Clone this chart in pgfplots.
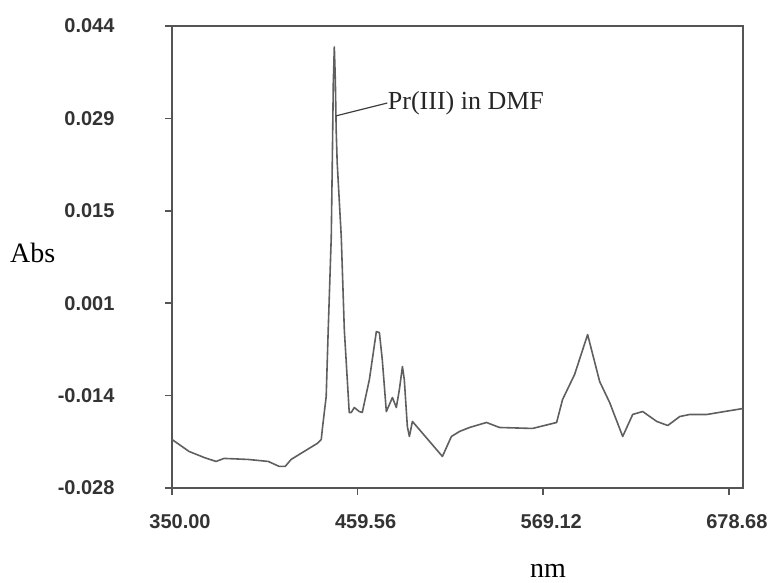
\documentclass[border=0pt]{standalone}
\usepackage{pgfplots}
\pgfplotsset{compat=1.18}
\usepackage{fontspec}
\setmainfont{Liberation Serif}
\newfontfamily\arialfont{Liberation Sans}
\definecolor{axgray}{RGB}{85,85,85}
\definecolor{lngray}{RGB}{95,95,95}
\begin{document}
\begin{tikzpicture}
\begin{axis}[
  scale only axis,
  width=571pt, height=462pt,
  xmin=350, xmax=687, ymin=-0.028, ymax=0.044,
  axis line style={axgray, line width=1.8pt},
  tick style={axgray, line width=1.6pt},
  tick align=outside,
  major tick length=7pt,
  xtick pos=bottom, ytick pos=left,
  xtick={350,459.56,569.12,678.68},
  xticklabels={350.00,459.56,569.12,678.68},
  ytick={-0.028,-0.0136,0.0008,0.0152,0.0296,0.044},
  yticklabels={-0.028,-0.014,0.001,0.015,0.029,0.044},
  scaled x ticks=false, scaled y ticks=false,
  ticklabel style={font=\arialfont\bfseries\fontsize{20}{24}\selectfont, text=black!80},
  xticklabel style={yshift=-16pt, xshift=8pt},
  yticklabel style={xshift=-47pt},
  xlabel={nm},
  xlabel style={at={(axis description cs:0.6585,-0.1800)}, anchor=center, inner sep=0pt, font=\fontsize{28}{30}\selectfont},
  ylabel={Abs},
  ylabel style={rotate=-90, at={(axis description cs:-0.2837,0.5087)}, anchor=west, inner sep=0pt, font=\fontsize{28}{30}\selectfont},
  clip=false,
]
\addplot[lngray, line width=1.6pt, line join=round] coordinates {
(350.0,-0.02044) (360.05,-0.02230) (368.9,-0.02324) (376.0,-0.02386) (380.7,-0.02339)
(394.9,-0.02355) (406.8,-0.02386) (413.3,-0.02464) (416.8,-0.02464) (420.3,-0.02355)
(425.1,-0.02277) (435.7,-0.02106) (438.1,-0.02044) (438.7,-0.01888) (441.0,-0.01374)
(442.2,-0.00332) (444.0,0.01116) (444.6,0.02268) (445.2,0.03513) (445.8,0.04073)
(446.4,0.03560) (446.9,0.02781) (447.5,0.02268) (449.9,0.01116) (451.7,-0.00332)
(454.6,-0.01623) (455.8,-0.01623) (457.6,-0.01546) (460.5,-0.01608) (462.3,-0.01623)
(466.5,-0.01110) (470.6,-0.00363) (472.4,-0.00378) (474.1,-0.00798) (476.5,-0.01608)
(478.3,-0.01499) (480.1,-0.01390) (482.4,-0.01546) (484.2,-0.01265) (486.0,-0.00907)
(487.1,-0.01110) (488.9,-0.01841) (490.1,-0.01997) (491.9,-0.01763) (509.6,-0.02308)
(514.9,-0.01997) (519.7,-0.01919) (525.6,-0.01857) (535.6,-0.01779) (543.3,-0.01857)
(562.8,-0.01872) (577.0,-0.01779) (580.5,-0.01421) (587.6,-0.01032) (595.3,-0.00409)
(602.4,-0.01141) (608.3,-0.01468) (616.0,-0.01997) (621.9,-0.01654) (627.8,-0.01608)
(636.1,-0.01763) (642.6,-0.01826) (649.7,-0.01686) (655.6,-0.01654) (665.7,-0.01654)
(687.0,-0.01561)
};
\draw[black!75, line width=1.2pt] (axis cs:446.9,0.0300) -- (axis cs:477.1,0.0320)
  node[anchor=west, inner sep=0pt, text=black!85, font=\fontsize{26}{30}\selectfont] {Pr(III) in DMF};
\end{axis}
\pgfresetboundingbox
\path[use as bounding box] (current axis.south west) ++(-172pt,-95pt) rectangle ++(772pt,583pt);
\end{tikzpicture}
\end{document}
